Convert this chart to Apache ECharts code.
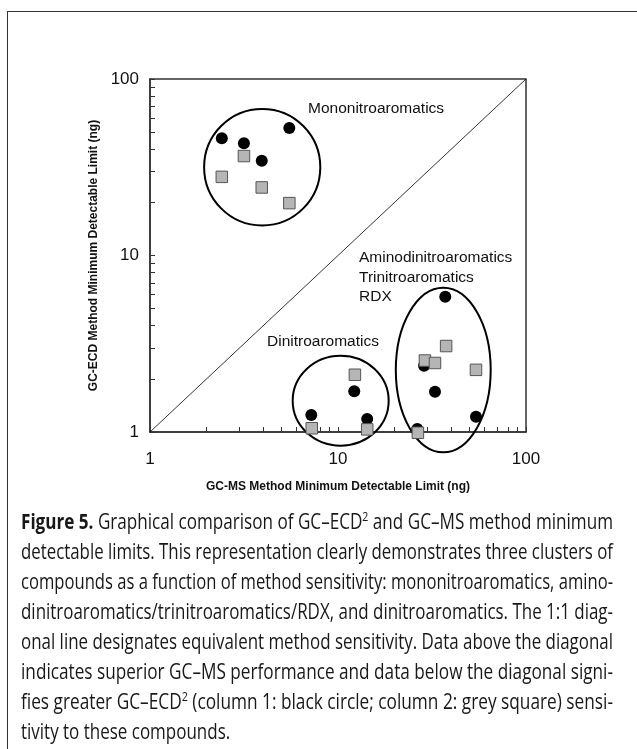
<!DOCTYPE html>
<html>
<head>
<meta charset="utf-8">
<script src="https://cdn.jsdelivr.net/npm/echarts@6/dist/echarts.min.js"></script>
<style>
  html, body { margin: 0; padding: 0; background: #fff; }
  body { width: 637px; height: 749px; position: relative; overflow: hidden; }
  #frame { position: absolute; left: 7px; top: 11px; width: 640px; height: 750px;
           border-top: 1.5px solid #333; border-left: 1.5px solid #333; box-sizing: border-box; }
  #chart { position: absolute; left: 0; top: 0; width: 637px; height: 749px; }
  #caption { position: absolute; left: 21px; top: 506px; width: 592px;
             font-family: "Open Sans", "Liberation Sans", sans-serif;
             font-size: 21px; line-height: 30px; color: #1a1718; }
  #caption .ln { height: 30px; white-space: nowrap; }
  #caption .in { display: inline-block; transform-origin: 0 50%; white-space: pre; }
  #caption b { font-weight: 700; }
  #caption .sup { font-size: 13px; position: relative; top: -8px; line-height: 0; }
</style>
</head>
<body>
<div id="frame"></div>
<div id="chart"></div>
<div id="caption">
  <div class="ln"><span class="in"><b>Figure 5.</b> Graphical comparison of GC–ECD<span class="sup">2</span> and GC–MS method minimum</span></div>
  <div class="ln"><span class="in">detectable limits. This representation clearly demonstrates three clusters of</span></div>
  <div class="ln"><span class="in">compounds as a function of method sensitivity: mononitroaromatics, amino-</span></div>
  <div class="ln"><span class="in">dinitroaromatics/trinitroaromatics/RDX, and dinitroaromatics. The 1:1 diag-</span></div>
  <div class="ln"><span class="in">onal line designates equivalent method sensitivity. Data above the diagonal</span></div>
  <div class="ln"><span class="in">indicates superior GC–MS performance and data below the diagonal signi-</span></div>
  <div class="ln"><span class="in">fies greater GC–ECD<span class="sup">2</span> (column 1: black circle; column 2: grey square) sensi-</span></div>
  <div class="ln last"><span class="in">tivity to these compounds.</span></div>
</div>
<script>
// ---- Data ----
// Column 1: black circles  [GC-MS MDL, GC-ECD MDL]
const circleX = [2.41, 3.16, 3.93, 5.51, 7.21, 12.2, 14.3, 37.2, 28.7, 32.8, 54.2, 26.4];
const circleY = [46.1, 43.2, 34.4, 52.8, 1.25, 1.70, 1.185, 5.84, 2.37, 1.69, 1.22, 1.04];
// Column 2: grey squares
const squareX = [3.16, 2.41, 3.93, 5.51, 7.25, 12.3, 14.3, 37.6, 29.0, 32.8, 54.2, 26.6];
const squareY = [36.6, 27.9, 24.3, 19.8, 1.05, 2.11, 1.035, 3.07, 2.54, 2.46, 2.25, 0.99];
// Cluster outlines: [xMin, xMax, yMin, yMax] in data units
const clusterNames = ["Mononitroaromatics", "Dinitroaromatics", "Aminodinitroaromatics\nTrinitroaromatics\nRDX"];
const clusterBounds = [
  [1.94, 8.05, 14.8, 67.6],
  [5.74, 18.6, 0.836, 2.70],
  [20.3, 64.9, 0.767, 6.57]
];
// 1:1 line
const diagonal = [[1, 1], [100, 100]];
// Axis ticks
const majorTicks = [1, 10, 100];
const allTicks = [1, 2, 3, 4, 5, 6, 7, 8, 9, 10, 20, 30, 40, 50, 60, 70, 80, 90, 100];

const circles = circleX.map((x, i) => [x, circleY[i]]);
const squares = squareX.map((x, i) => [x, squareY[i]]);

// Condense caption lines to the justified column width
(function () {
  const lines = Array.from(document.querySelectorAll('#caption .in'));
  const target = 592;
  const scales = [];
  lines.forEach((el, i) => {
    if (i < lines.length - 1) {
      const s = target / el.getBoundingClientRect().width;
      scales.push(s);
      el.style.transform = 'scaleX(' + s + ')';
    }
  });
  const avg = scales.reduce((a, b) => a + b, 0) / scales.length;
  lines[lines.length - 1].style.transform = 'scaleX(' + avg + ')';
})();

const chart = echarts.init(document.getElementById('chart'), null, { renderer: 'canvas' });

const axisCommon = {
  type: 'log',
  logBase: 10,
  min: 1,
  max: 100,
  splitLine: { show: false },
  axisLine: { show: true, lineStyle: { color: '#333', width: 1.5 } },
  axisTick: { show: true, inside: true, length: 5, customValues: allTicks, lineStyle: { color: '#333', width: 1 } },
  axisLabel: { customValues: majorTicks, fontFamily: 'Liberation Sans, Arial, sans-serif', fontSize: 17, color: '#111' },
  nameLocation: 'middle',
  nameTextStyle: { fontFamily: 'Liberation Sans, Arial, sans-serif', fontSize: 12, fontWeight: 'bold', color: '#111' }
};

const labelFont = '15.5px "Liberation Sans", Arial, sans-serif';

chart.setOption({
  animation: false,
  grid: { left: 150, top: 79, width: 376, height: 353, show: true, borderColor: '#333', borderWidth: 1.5, backgroundColor: 'transparent' },
  xAxis: Object.assign({}, axisCommon, {
    name: 'GC-MS Method Minimum Detectable Limit (ng)',
    nameGap: 49,
    axisLabel: Object.assign({}, axisCommon.axisLabel, { margin: 19 })
  }),
  yAxis: Object.assign({}, axisCommon, {
    name: 'GC-ECD Method Minimum Detectable Limit (ng)',
    nameGap: 43,
    axisLabel: Object.assign({}, axisCommon.axisLabel, { margin: 11 })
  }),
  series: [
    {
      type: 'custom',
      clip: false,
      z: 1,
      encode: { x: [0, 1], y: [2, 3] },
      data: clusterBounds,
      renderItem: function (params, api) {
        const p1 = api.coord([api.value(0), api.value(2)]);
        const p2 = api.coord([api.value(1), api.value(3)]);
        const cx = (p1[0] + p2[0]) / 2, cy = (p1[1] + p2[1]) / 2;
        const rx = Math.abs(p2[0] - p1[0]) / 2, ry = Math.abs(p2[1] - p1[1]) / 2;
        const d = 'M' + (cx - rx) + ' ' + cy +
          ' A' + rx + ' ' + ry + ' 0 1 0 ' + (cx + rx) + ' ' + cy +
          ' A' + rx + ' ' + ry + ' 0 1 0 ' + (cx - rx) + ' ' + cy + ' Z';
        return { type: 'path', shape: { pathData: d }, style: { fill: 'none', stroke: '#000', lineWidth: 2 } };
      }
    },
    {
      type: 'line',
      data: diagonal,
      symbol: 'none',
      z: 1,
      lineStyle: { color: '#000', width: 0.8 }
    },
    {
      type: 'scatter',
      data: circles,
      clip: false,
      z: 3,
      symbol: 'circle',
      symbolSize: 12,
      itemStyle: { color: '#000', opacity: 1 }
    },
    {
      type: 'scatter',
      data: squares,
      clip: false,
      z: 4,
      symbol: 'rect',
      symbolSize: 11.5,
      itemStyle: { color: '#b5b5b5', borderColor: '#555', borderWidth: 1, opacity: 1 }
    }
  ],
  graphic: [
    { type: 'text', left: 308, top: 101, style: { text: clusterNames[0], font: labelFont, fill: '#111' } },
    { type: 'text', left: 267, top: 334, style: { text: clusterNames[1], font: labelFont, fill: '#111' } },
    { type: 'text', left: 359, top: 248, style: { text: clusterNames[2], font: labelFont, fill: '#111', lineHeight: 19.5 } }
  ]
});
</script>
</body>
</html>
